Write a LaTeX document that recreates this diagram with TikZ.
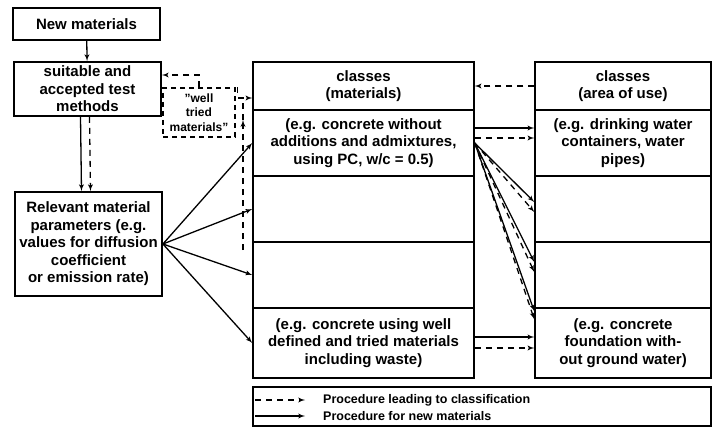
\documentclass[tikz,border=0pt]{standalone}
\usepackage{fontspec}
\setmainfont{Liberation Sans}
\usetikzlibrary{arrows}

\begin{document}
\begin{tikzpicture}[x=1pt,y=-1pt]

\tikzset{box/.style = {shape=rectangle,draw,line width=1.8pt,align=center,inner sep=0pt,font=\bfseries\fontsize{15}{17.5}\selectfont}}
\tikzset{cell/.style = {box,line width=1.5pt,minimum width=221pt,minimum height=66pt}}
\tikzset{use/.style = {box,line width=1.5pt,minimum width=176pt,minimum height=66pt}}
\tikzset{edge/.style = {->,> = latex',line width=1.3pt}}
\tikzset{dashedge/.style = {edge,dash pattern=on 6pt off 5pt}}
\tikzset{key/.style = {anchor=west,inner sep=0pt,font=\bfseries\fontsize{12.5}{15}\selectfont}}

\useasboundingbox (0,0) rectangle (713,428);

%left column
\node[box, minimum width=147pt, minimum height=32pt] (new) at (86.5,24) {New materials};
\node[box, minimum width=147pt, minimum height=54pt] (test) at (87.5,89) {suitable and\\accepted test\\methods};
\node[box, minimum width=147pt, minimum height=104pt] (param) at (88.5,244) {Relevant material\\parameters (e.g.\\values for diffusion\\coefficient\\or emission rate)};
\node[box, line width=1.2pt, dash pattern=on 5pt off 4pt, minimum width=72pt, minimum height=49pt, font=\bfseries\fontsize{12}{14.5}\selectfont] (tried) at (199,112.5) {"well\\tried\\materials"};
%classes (materials)
\node[cell, minimum height=48pt] (m0) at (363.5,86) {classes\\(materials)};
\node[cell] (m1) at (363.5,143) {(e.g. concrete without\\additions and admixtures,\\using PC, w/c = 0.5)};
\node[cell] (m2) at (363.5,209) {};
\node[cell] (m3) at (363.5,275) {};
\node[cell, minimum height=70pt] (m4) at (363.5,343) {(e.g. concrete using well\\defined and tried materials\\including waste)};
%classes (area of use)
\node[use, minimum height=48pt] (a0) at (623,86) {classes\\(area of use)};
\node[use] (a1) at (623,143) {(e.g. drinking water\\containers, water\\pipes)};
\node[use] (a2) at (623,209) {};
\node[use] (a3) at (623,275) {};
\node[use, minimum height=70pt] (a4) at (623,343) {(e.g. concrete\\foundation with-\\out ground water)};
%legend
\node[draw, line width=1.5pt, minimum width=458pt, minimum height=39pt] (legend) at (482,406.5) {};
\node[key] (l1) at (323,400) {Procedure leading to classification};
\node[key] (l2) at (323,416) {Procedure for new materials};
\draw[dashedge] ([xshift=-68pt]l1.west) -- ([xshift=-18pt]l1.west);
\draw[edge] ([xshift=-68pt]l2.west) -- ([xshift=-18pt]l2.west);

%edges
\draw[edge] (new) -- (test);
\draw[edge] ([xshift=-7pt]test.south) -- ([xshift=-7pt]param.north);
\draw[dashedge] ([xshift=2pt]test.south) -- ([xshift=2pt]param.north);
\draw[edge] (param.east) -- (m1.west);
\draw[edge] (param.east) -- (m2.west);
\draw[edge] (param.east) -- (m3.west);
\draw[edge] (param.east) -- (m4.west);
\draw[edge] ([yshift=15pt]m1.east) -- ([yshift=15pt]a1.west);
\draw[dashedge] ([yshift=5pt]m1.east) -- ([yshift=5pt]a1.west);
\draw[edge] (m1.east) -- ([yshift=7pt]a2.west);
\draw[dashedge] (m1.east) -- ([yshift=-3pt]a2.west);
\draw[edge] (m1.east) -- ([yshift=13pt]a3.west);
\draw[dashedge] (m1.east) -- ([yshift=3pt]a3.west);
\draw[edge] (m1.east) -- ([yshift=-4pt]a4.north west);
\draw[dashedge] (m1.east) -- ([yshift=-12pt]a4.north west);
\draw[edge] ([yshift=6pt]m4.east) -- ([yshift=6pt]a4.west);
\draw[dashedge] ([yshift=-5pt]m4.east) -- ([yshift=-5pt]a4.west);
\draw[dashedge] (a0.west) -- (m0.east);
\draw[dashedge] (tried.north) |- ([yshift=14pt]test.east);
\draw[dashedge] ([xshift=2pt]tried.north east) |- ([yshift=-12pt]m0.west);
\coordinate (d1) at (243,250);
\coordinate (d2) at (243,120);
\coordinate (d3) at (243,98);
\draw[dashedge] (d1) -- (d2);
\draw[line width=1.3pt, dash pattern=on 6pt off 5pt] (d2) -- (d3);

\end{tikzpicture}
\end{document}
